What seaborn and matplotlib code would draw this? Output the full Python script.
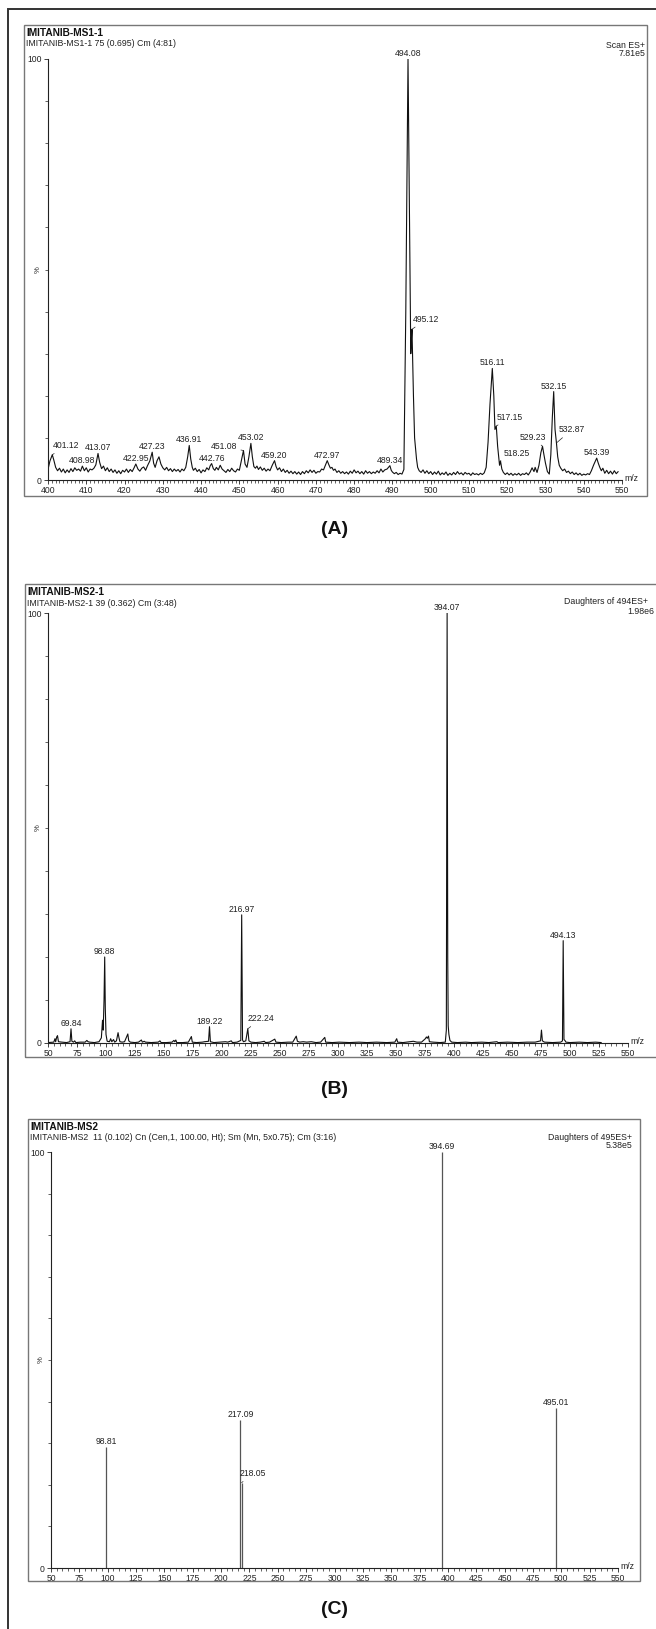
import matplotlib
matplotlib.use("Agg")
import matplotlib.pyplot as plt
from matplotlib.patches import Rectangle
from matplotlib.ticker import MultipleLocator, FixedLocator
from matplotlib import font_manager
import seaborn as sns

# ---------------- DATA ----------------
# Panel A: full scan (m/z, relative intensity %)
a_points = [
    (400.0, 2.5), (400.5, 4.5), (401.12, 6.0), (401.5, 4.8), (402.0, 3.0), (402.5, 2.2), (403.0, 2.8),
    (403.5, 1.9), (404.0, 2.6), (404.5, 1.7), (405.0, 2.4), (405.5, 1.8), (406.0, 2.7), (406.5, 2.0),
    (407.0, 2.9), (407.5, 2.3), (408.0, 2.6), (408.5, 2.1), (408.98, 3.3), (409.5, 2.2), (410.0, 2.9),
    (410.5, 1.9), (411.0, 2.6), (411.5, 2.4), (412.0, 2.8), (412.5, 3.6), (413.07, 6.3), (413.5, 4.2),
    (414.0, 2.7), (414.5, 3.3), (415.0, 2.2), (415.5, 2.9), (416.0, 2.0), (416.5, 2.6), (417.0, 1.8),
    (417.5, 2.4), (418.0, 1.6), (418.5, 2.2), (419.0, 1.5), (419.5, 2.3), (420.0, 1.9), (420.5, 2.6),
    (421.0, 1.8), (421.5, 2.5), (422.0, 2.0), (422.5, 2.9), (422.95, 3.8), (423.5, 2.6), (424.0, 2.1),
    (424.5, 2.8), (425.0, 3.1), (425.5, 2.3), (426.0, 3.4), (426.6, 4.5), (427.23, 6.6), (427.6, 4.0),
    (428.0, 3.0), (428.5, 4.6), (429.0, 5.5), (429.5, 3.8), (430.0, 2.9), (430.5, 2.4), (431.0, 3.0),
    (431.5, 2.2), (432.0, 2.7), (432.5, 2.0), (433.0, 2.6), (433.5, 2.1), (434.0, 2.5), (434.5, 1.9),
    (435.0, 2.6), (435.5, 2.2), (436.0, 3.0), (436.5, 5.5), (436.91, 8.2), (437.3, 5.0), (437.7, 3.0),
    (438.0, 2.3), (438.5, 2.8), (439.0, 2.0), (439.5, 2.5), (440.0, 1.7), (440.5, 2.4), (441.0, 2.0),
    (441.5, 2.9), (442.0, 2.4), (442.4, 3.4), (442.76, 3.9), (443.2, 2.7), (443.6, 2.3), (444.0, 3.0),
    (444.5, 2.4), (445.0, 3.5), (445.5, 2.6), (446.0, 2.2), (446.5, 1.8), (447.0, 2.5), (447.5, 2.0),
    (448.0, 2.8), (448.5, 2.2), (449.0, 1.9), (449.5, 2.6), (450.0, 2.3), (450.5, 4.5), (451.08, 7.0),
    (451.5, 3.8), (452.0, 3.0), (452.5, 5.5), (453.02, 8.7), (453.4, 5.5), (453.8, 3.2), (454.2, 2.8),
    (454.6, 3.3), (455.0, 2.5), (455.5, 3.1), (456.0, 2.3), (456.5, 2.8), (457.0, 2.1), (457.5, 2.6),
    (458.0, 2.2), (458.6, 3.5), (459.2, 4.6), (459.6, 3.2), (460.0, 2.4), (460.5, 2.9), (461.0, 2.0),
    (461.5, 2.6), (462.0, 1.8), (462.5, 2.3), (463.0, 1.6), (463.5, 2.1), (464.0, 1.5), (464.5, 2.0),
    (465.0, 1.4), (465.5, 1.9), (466.0, 1.3), (466.5, 2.0), (467.0, 1.5), (467.5, 2.2), (468.0, 1.7),
    (468.5, 2.4), (469.0, 1.8), (469.5, 2.3), (470.0, 1.6), (470.5, 2.0), (471.0, 1.9), (471.5, 2.6),
    (472.0, 2.4), (472.5, 3.5), (472.97, 4.6), (473.4, 3.6), (473.8, 2.8), (474.2, 3.0), (474.6, 2.3),
    (475.0, 2.6), (475.5, 1.8), (476.0, 2.2), (476.5, 1.6), (477.0, 2.0), (477.5, 1.5), (478.0, 1.9),
    (478.5, 1.4), (479.0, 2.1), (479.5, 1.6), (480.0, 2.4), (480.5, 1.7), (481.0, 2.1), (481.5, 1.5),
    (482.0, 2.0), (482.5, 1.4), (483.0, 2.2), (483.5, 1.6), (484.0, 2.0), (484.5, 1.5), (485.0, 1.9),
    (485.5, 1.6), (486.0, 2.2), (486.5, 1.7), (487.0, 2.6), (487.5, 1.9), (488.0, 2.4), (488.6, 2.6),
    (489.34, 3.4), (489.7, 2.3), (490.0, 1.9), (490.5, 1.5), (491.0, 1.8), (491.5, 1.3), (492.0, 1.6),
    (492.5, 1.4), (493.0, 2.5), (493.5, 40.0), (494.08, 100.0), (494.5, 60.0), (494.8, 30.0),
    (495.0, 34.0), (495.12, 35.8), (495.3, 28.0), (495.5, 20.0), (495.8, 10.0), (496.0, 8.0),
    (496.3, 5.0), (496.6, 3.0), (497.0, 2.2), (497.5, 1.8), (498.0, 2.4), (498.5, 1.6), (499.0, 2.2),
    (499.5, 1.5), (500.0, 2.0), (500.5, 1.3), (501.0, 1.9), (501.5, 1.4), (502.0, 2.1), (502.5, 1.2),
    (503.0, 1.7), (503.5, 1.3), (504.0, 1.9), (504.5, 1.1), (505.0, 1.6), (505.5, 1.2), (506.0, 1.8),
    (506.5, 1.3), (507.0, 2.0), (507.5, 1.4), (508.0, 1.7), (508.5, 1.2), (509.0, 1.8), (509.5, 1.4),
    (510.0, 1.6), (510.5, 1.1), (511.0, 1.7), (511.5, 1.3), (512.0, 1.5), (512.5, 1.2), (513.0, 1.6),
    (513.5, 1.3), (514.0, 1.7), (514.5, 3.0), (515.0, 9.0), (515.5, 18.0), (516.11, 26.5), (516.5, 20.0),
    (516.8, 12.0), (517.15, 12.8), (517.5, 8.0), (518.0, 3.5), (518.25, 4.5), (518.6, 2.6), (519.0, 1.8),
    (519.5, 1.3), (520.0, 1.7), (520.5, 1.2), (521.0, 1.6), (521.5, 1.1), (522.0, 1.5), (522.5, 1.2),
    (523.0, 1.6), (523.5, 1.1), (524.0, 1.5), (524.5, 1.3), (525.0, 1.7), (525.5, 1.2), (526.0, 1.9),
    (526.5, 2.9), (527.0, 2.0), (527.3, 3.0), (527.8, 1.8), (528.3, 3.5), (528.8, 6.5), (529.23, 8.0),
    (529.6, 6.0), (530.0, 4.0), (530.5, 2.0), (531.0, 1.4), (531.4, 6.0), (531.8, 15.0), (532.15, 21.0),
    (532.5, 12.0), (532.87, 8.8), (533.2, 5.5), (533.6, 3.5), (534.0, 2.8), (534.5, 2.2), (535.0, 2.6),
    (535.5, 1.8), (536.0, 2.1), (536.5, 1.5), (537.0, 1.9), (537.5, 1.3), (538.0, 1.7), (538.5, 1.2),
    (539.0, 1.6), (539.5, 1.1), (540.0, 1.4), (540.5, 1.2), (541.0, 1.5), (541.5, 1.3), (542.0, 2.2),
    (542.6, 3.6), (543.39, 5.2), (543.8, 4.0), (544.2, 3.0), (544.6, 2.2), (545.0, 2.8), (545.5, 1.6),
    (546.0, 2.3), (546.5, 1.5), (547.0, 2.1), (547.5, 1.4), (548.0, 2.2), (548.5, 1.5), (549.0, 2.0),
]
a_labels = ["401.12", "408.98", "413.07", "422.95", "427.23", "436.91", "442.76", "451.08", "453.02",
            "459.20", "472.97", "489.34", "494.08", "495.12", "516.11", "517.15", "518.25", "529.23",
            "532.15", "532.87", "543.39"]
a_label_y = [6.0, 3.3, 6.3, 3.8, 6.6, 8.2, 3.9, 7.0, 8.7, 4.6, 4.6, 3.4, 100.0, 35.8, 26.5, 12.8, 4.5,
             8.0, 21.0, 8.8, 5.2]

# Panel B: daughters of 494 (profile)
b_points = [
    (50.0, 0.1), (55.0, 0.2), (56.0, 1.0), (56.6, 0.3), (57.5, 1.4), (58.2, 1.7), (59.0, 0.3), (62.0, 0.2),
    (66.0, 0.1), (69.0, 0.3), (69.84, 3.3), (70.6, 0.4), (72.0, 0.2), (73.0, 0.5), (74.0, 0.1), (78.0, 0.2),
    (82.0, 0.2), (83.5, 0.6), (84.5, 0.3), (86.0, 0.2), (90.0, 0.1), (94.0, 0.3), (96.0, 1.2), (97.0, 5.3),
    (97.6, 3.0), (98.3, 10.0), (98.88, 20.0), (99.4, 8.0), (100.0, 2.0), (101.0, 0.4), (103.0, 0.3),
    (104.0, 1.0), (105.0, 0.3), (106.5, 0.8), (107.5, 0.2), (109.0, 0.5), (110.4, 2.4), (111.2, 1.2),
    (112.0, 0.3), (114.0, 0.2), (116.0, 0.3), (118.8, 2.1), (119.6, 0.5), (121.0, 0.2), (125.0, 0.1),
    (128.0, 0.2), (130.5, 0.7), (131.3, 0.2), (133.0, 0.4), (134.0, 0.2), (139.0, 0.1), (145.0, 0.2),
    (146.5, 0.5), (147.5, 0.1), (152.0, 0.1), (157.0, 0.2), (158.5, 0.6), (159.3, 0.3), (160.2, 0.7),
    (161.0, 0.1), (166.0, 0.1), (171.0, 0.2), (173.6, 1.5), (174.4, 0.2), (178.0, 0.1), (183.0, 0.2),
    (185.0, 0.3), (188.4, 0.4), (189.22, 3.8), (190.0, 0.3), (193.0, 0.1), (198.0, 0.2), (203.0, 0.3),
    (205.0, 0.2), (208.0, 0.5), (209.0, 0.1), (213.0, 0.2), (216.2, 0.6), (216.97, 29.8), (217.7, 0.7),
    (218.5, 0.3), (220.5, 0.5), (222.24, 3.3), (223.2, 0.5), (225.0, 0.2), (229.0, 0.1), (233.0, 0.2),
    (236.5, 0.4), (237.5, 0.1), (241.0, 0.2), (245.5, 0.9), (246.5, 0.2), (251.0, 0.1), (257.0, 0.2),
    (261.0, 0.2), (263.2, 1.2), (264.0, 1.6), (265.0, 0.4), (267.0, 0.2), (270.0, 0.3), (273.0, 0.2),
    (277.0, 0.3), (281.0, 0.1), (285.0, 0.2), (288.6, 1.3), (289.4, 0.2), (295.0, 0.1), (301.0, 0.2),
    (310.0, 0.1), (318.0, 0.2), (325.0, 0.1), (333.0, 0.2), (342.0, 0.1), (349.0, 0.2), (350.6, 1.0),
    (351.4, 0.2), (356.0, 0.1), (362.0, 0.3), (365.0, 0.4), (368.0, 0.2), (372.0, 0.2), (375.3, 1.0),
    (376.2, 1.4), (377.0, 1.1), (378.0, 1.6), (378.8, 0.3), (382.0, 0.2), (388.0, 0.1), (392.5, 0.2),
    (393.4, 3.0), (394.07, 100.0), (394.6, 20.0), (395.0, 4.0), (395.6, 2.0), (396.5, 0.6), (398.0, 0.2),
    (403.0, 0.1), (410.0, 0.2), (415.0, 0.1), (424.0, 0.2), (430.0, 0.1), (437.0, 0.3), (438.0, 0.1),
    (446.0, 0.2), (455.0, 0.1), (463.0, 0.2), (470.0, 0.2), (474.6, 0.5), (475.4, 3.0), (476.2, 0.5),
    (478.0, 0.2), (485.0, 0.1), (492.0, 0.2), (493.5, 0.5), (494.13, 23.8), (494.8, 0.8), (495.6, 0.6),
    (496.5, 0.2), (500.0, 0.1), (508.0, 0.2), (515.0, 0.1), (522.0, 0.2), (527.0, 0.1),
]
b_labels = ["69.84", "98.88", "189.22", "216.97", "222.24", "394.07", "494.13"]
b_label_y = [3.3, 20.0, 3.8, 29.8, 3.3, 100.0, 23.8]

# Panel C: daughters of 495 (centroided sticks)
c_mz = [98.81, 217.09, 218.05, 394.69, 495.01]
c_pct = [29.2, 35.6, 20.5, 100.0, 38.4]
c_labels = ["98.81", "217.09", "218.05", "394.69", "495.01"]

titles = ["IMITANIB-MS1-1", "IMITANIB-MS2-1", "IMITANIB-MS2"]
subtitles = ["IMITANIB-MS1-1 75 (0.695) Cm (4:81)",
             "IMITANIB-MS2-1 39 (0.362) Cm (3:48)",
             "IMITANIB-MS2  11 (0.102) Cn (Cen,1, 100.00, Ht); Sm (Mn, 5x0.75); Cm (3:16)"]
scan_types = ["Scan ES+", "Daughters of 494ES+", "Daughters of 495ES+"]
base_peaks = ["7.81e5", "1.98e6", "5.38e5"]
panel_tags = ["(A)", "(B)", "(C)"]

# ---------------- STYLE ----------------
sns.set_style("ticks")
names = {f.name for f in font_manager.fontManager.ttflist}
fam = "Liberation Sans Narrow" if "Liberation Sans Narrow" in names else "Liberation Sans"
plt.rcParams["font.family"] = [fam, "DejaVu Sans"]
plt.rcParams["axes.linewidth"] = 0.8

W, H = 656, 1629
fig = plt.figure(figsize=(W / 100, H / 100), dpi=100)
fig.patch.set_facecolor("white")

def fx(x):
    return x / W

def fy(y):
    return 1 - y / H

def add_box(x0, y0, x1, y1, color, lw):
    fig.add_artist(Rectangle((fx(x0), fy(y1)), (x1 - x0) / W, (y1 - y0) / H,
                             transform=fig.transFigure, fill=False, ec=color, lw=lw))

# outer frame (right/bottom run off the page)
add_box(8, 9, 700, 1700, "#333333", 1.4)

TXT = "#222222"
LBL = 6.2
HDR = 6.3
TTL = 7.3

def style_axis(ax, xlo, xhi, major, minor, width_px):
    ax.set_xlim(xlo, xhi)
    ax.set_ylim(0, 100)
    sns.despine(ax=ax)
    for s in ("left", "bottom"):
        ax.spines[s].set_color("#222222")
        ax.spines[s].set_linewidth(0.8)
    ax.xaxis.set_major_locator(MultipleLocator(major))
    ax.xaxis.set_minor_locator(MultipleLocator(minor))
    ax.yaxis.set_major_locator(FixedLocator([0, 100]))
    ax.yaxis.set_minor_locator(MultipleLocator(10))
    ax.tick_params(axis="both", which="major", length=3.2, width=0.6, labelsize=LBL,
                   colors="#222222", pad=1.2)
    ax.tick_params(axis="both", which="minor", length=2.0, width=0.5, colors="#222222")
    ax.set_xlabel("")
    ax.set_ylabel("")
    ax.text(-9.5 / width_px, 0.5, "%", transform=ax.transAxes, rotation=90, ha="center",
            va="center", fontsize=5.5, color=TXT)
    ax.text(1.004, 0.004, "m/z", transform=ax.transAxes, ha="left", va="center",
            fontsize=LBL, color=TXT)
    ax.patch.set_alpha(0)

def label_above(ax, x, y, s):
    ax.annotate(s, xy=(x, y), xytext=(0, 1.0), textcoords="offset pixels",
                ha="center", va="bottom", fontsize=LBL, color=TXT, annotation_clip=False)

def label_leader(ax, x, y, s, dx, dy):
    ax.annotate(s, xy=(x, y), xytext=(dx, dy), textcoords="offset pixels",
                ha="center", va="center", fontsize=LBL, color=TXT, annotation_clip=False,
                arrowprops=dict(arrowstyle="-", color="#222222", lw=0.5,
                                shrinkA=0, shrinkB=0))

def header(i, box_x0, box_top):
    fig.text(fx(box_x0 + 2), fy(box_top + 8), titles[i], fontsize=TTL, fontweight="bold",
             color="#111111", ha="left", va="center")
    fig.text(fx(box_x0 + 2), fy(box_top + 19), subtitles[i], fontsize=HDR, color=TXT,
             ha="left", va="center")

def tag(i, y):
    fig.text(fx(335), fy(y), panel_tags[i], fontsize=14, fontweight="bold", color="#111111",
             ha="center", va="center", family=["Liberation Sans", "DejaVu Sans"])

# ---------------- PANEL A ----------------
add_box(24, 25, 647, 496, "#777777", 1.0)
header(0, 24, 25)
fig.text(fx(645), fy(45), scan_types[0], fontsize=HDR, color=TXT, ha="right", va="center")
fig.text(fx(645), fy(54), base_peaks[0], fontsize=HDR, color=TXT, ha="right", va="center")
axA = fig.add_axes([fx(48), fy(480), (622 - 48) / W, (480 - 59) / H])
a_mz = [p[0] for p in a_points]
a_pct = [p[1] for p in a_points]
sns.lineplot(x=a_mz, y=a_pct, ax=axA, color="#111111", lw=0.8, estimator=None, sort=False)
style_axis(axA, 400, 550, 10, 1, 574)

leaderA = {"401.12": (14, 9), "451.08": (-19, 4), "495.12": (14, 10), "517.15": (13, 9),
           "518.25": (16, 8), "529.23": (-10, 9), "532.87": (15, 13)}
for s, y in zip(a_labels, a_label_y):
    x = float(s)
    if s in leaderA:
        label_leader(axA, x, y, s, *leaderA[s])
    else:
        label_above(axA, x, y, s)
tag(0, 529)

# ---------------- PANEL B ----------------
add_box(25, 584, 700, 1057, "#777777", 1.0)
header(1, 25, 584)
fig.text(fx(648), fy(602), scan_types[1], fontsize=HDR, color=TXT, ha="right", va="center")
fig.text(fx(654), fy(611), base_peaks[1], fontsize=HDR, color=TXT, ha="right", va="center")
axB = fig.add_axes([fx(48), fy(1043), (628 - 48) / W, (1043 - 613) / H])
b_mz = [p[0] for p in b_points]
b_pct = [p[1] for p in b_points]
sns.lineplot(x=b_mz, y=b_pct, ax=axB, color="#111111", lw=0.8, estimator=None, sort=False)
style_axis(axB, 50, 550, 25, 5, 580)
leaderB = {"222.24": (13, 10)}
for s, y in zip(b_labels, b_label_y):
    x = float(s)
    if s in leaderB:
        label_leader(axB, x, y, s, *leaderB[s])
    else:
        label_above(axB, x, y, s)
tag(1, 1090)

# ---------------- PANEL C ----------------
add_box(28, 1119, 640, 1581, "#777777", 1.0)
header(2, 28, 1119)
fig.text(fx(632), fy(1137), scan_types[2], fontsize=HDR, color=TXT, ha="right", va="center")
fig.text(fx(632), fy(1146), base_peaks[2], fontsize=HDR, color=TXT, ha="right", va="center")
axC = fig.add_axes([fx(51), fy(1568), (618 - 51) / W, (1568 - 1152) / H])
axC.vlines(c_mz, 0, c_pct, color="#555555", lw=0.9)
style_axis(axC, 50, 550, 25, 5, 567)
leaderC = {"218.05": (11, 9)}
for s, x, y in zip(c_labels, c_mz, c_pct):
    if s in leaderC:
        label_leader(axC, x, y, s, *leaderC[s])
    else:
        label_above(axC, x, y, s)
tag(2, 1610)

fig.savefig("out.png", dpi=100, facecolor="white")
